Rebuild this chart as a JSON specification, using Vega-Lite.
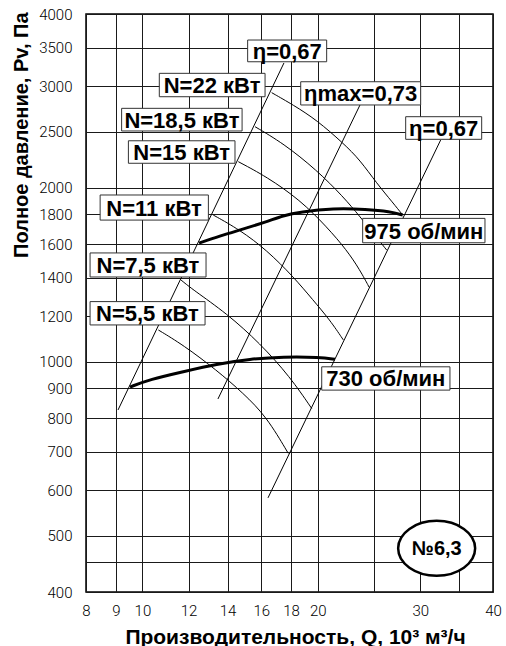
{
  "$schema": "https://vega.github.io/schema/vega-lite/v6.json",
  "width": 407,
  "height": 578,
  "autosize": "none",
  "padding": {"left": 86, "top": 14, "right": 13, "bottom": 54},
  "background": "white",
  "config": {
    "view": {"stroke": "black", "strokeWidth": 1.5},
    "axis": {
      "grid": true, "gridColor": "#1a1a1a", "gridWidth": 1, "gridOpacity": 1,
      "ticks": false, "domain": false,
      "labelFont": "Roboto", "labelFontWeight": 300, "labelFontSize": 15, "labelColor": "black",
      "titleFont": "Liberation Sans", "titleFontWeight": "bold", "titleFontSize": 21, "titleColor": "black"
    }
  },
  "datasets": {
    "curves": [
      {"s": "eta1", "k": "thin", "q": 9.08, "p": 826}, {"s": "eta1", "k": "thin", "q": 17.5, "p": 3291},
      {"s": "etamax", "k": "thin", "q": 13.48, "p": 863}, {"s": "etamax", "k": "thin", "q": 23.64, "p": 2784},
      {"s": "eta2", "k": "thin", "q": 16.43, "p": 582}, {"s": "eta2", "k": "thin", "q": 32.52, "p": 2421},
      {"s": "N22", "k": "thin", "q": 16.67, "p": 2924}, {"s": "N22", "k": "thin", "q": 18.16, "p": 2784}, {"s": "N22", "k": "thin", "q": 19.92, "p": 2622}, {"s": "N22", "k": "thin", "q": 22.13, "p": 2390}, {"s": "N22", "k": "thin", "q": 23.64, "p": 2236}, {"s": "N22", "k": "thin", "q": 25.25, "p": 2038}, {"s": "N22", "k": "thin", "q": 26.97, "p": 1882}, {"s": "N22", "k": "thin", "q": 27.99, "p": 1796},
      {"s": "N18", "k": "thin", "q": 15.61, "p": 2553}, {"s": "N18", "k": "thin", "q": 17.45, "p": 2390}, {"s": "N18", "k": "thin", "q": 19.92, "p": 2148}, {"s": "N18", "k": "thin", "q": 22.13, "p": 1931}, {"s": "N18", "k": "thin", "q": 23.64, "p": 1784}, {"s": "N18", "k": "thin", "q": 24.89, "p": 1672}, {"s": "N18", "k": "thin", "q": 26.27, "p": 1562},
      {"s": "N15", "k": "thin", "q": 14.61, "p": 2221}, {"s": "N15", "k": "thin", "q": 16.34, "p": 2092}, {"s": "N15", "k": "thin", "q": 18.65, "p": 1907}, {"s": "N15", "k": "thin", "q": 20.72, "p": 1714}, {"s": "N15", "k": "thin", "q": 22.43, "p": 1562}, {"s": "N15", "k": "thin", "q": 23.64, "p": 1442}, {"s": "N15", "k": "thin", "q": 24.52, "p": 1346},
      {"s": "N11", "k": "thin", "q": 13.23, "p": 1796}, {"s": "N11", "k": "thin", "q": 14.71, "p": 1692}, {"s": "N11", "k": "thin", "q": 16.34, "p": 1562}, {"s": "N11", "k": "thin", "q": 18.16, "p": 1405}, {"s": "N11", "k": "thin", "q": 19.63, "p": 1280}, {"s": "N11", "k": "thin", "q": 20.99, "p": 1182}, {"s": "N11", "k": "thin", "q": 22.13, "p": 1092},
      {"s": "N7", "k": "thin", "q": 11.65, "p": 1386}, {"s": "N7", "k": "thin", "q": 12.23, "p": 1332}, {"s": "N7", "k": "thin", "q": 13.95, "p": 1214}, {"s": "N7", "k": "thin", "q": 15.92, "p": 1077}, {"s": "N7", "k": "thin", "q": 17.92, "p": 943}, {"s": "N7", "k": "thin", "q": 19.53, "p": 831},
      {"s": "N5", "k": "thin", "q": 10.65, "p": 1136}, {"s": "N5", "k": "thin", "q": 11.75, "p": 1070}, {"s": "N5", "k": "thin", "q": 13.41, "p": 968}, {"s": "N5", "k": "thin", "q": 14.9, "p": 883}, {"s": "N5", "k": "thin", "q": 16.34, "p": 804}, {"s": "N5", "k": "thin", "q": 17.8, "p": 695},
      {"s": "r975", "k": "thick", "q": 12.51, "p": 1606}, {"s": "r975", "k": "thick", "q": 13.59, "p": 1652}, {"s": "r975", "k": "thick", "q": 14.71, "p": 1692}, {"s": "r975", "k": "thick", "q": 16.34, "p": 1748}, {"s": "r975", "k": "thick", "q": 17.45, "p": 1792}, {"s": "r975", "k": "thick", "q": 18.65, "p": 1818}, {"s": "r975", "k": "thick", "q": 21.27, "p": 1845}, {"s": "r975", "k": "thick", "q": 24.27, "p": 1837}, {"s": "r975", "k": "thick", "q": 26.62, "p": 1820}, {"s": "r975", "k": "thick", "q": 27.99, "p": 1796},
      {"s": "r730", "k": "thick", "q": 9.52, "p": 905}, {"s": "r730", "k": "thick", "q": 10.3, "p": 933}, {"s": "r730", "k": "thick", "q": 11.75, "p": 962}, {"s": "r730", "k": "thick", "q": 13.41, "p": 992}, {"s": "r730", "k": "thick", "q": 15.3, "p": 1012}, {"s": "r730", "k": "thick", "q": 17.45, "p": 1021}, {"s": "r730", "k": "thick", "q": 20.18, "p": 1019}, {"s": "r730", "k": "thick", "q": 21.41, "p": 1011}
    ],
    "boxes": [
      {"q": 15.16, "q2": 20.72, "p": 3307, "p2": 3606},
      {"q": 10.69, "q2": 16.24, "p": 2877, "p2": 3158},
      {"q": 18.7, "q2": 30.05, "p": 2784, "p2": 3054},
      {"q": 28.32, "q2": 38.25, "p": 2428, "p2": 2657},
      {"q": 9.21, "q2": 14.83, "p": 2510, "p2": 2747},
      {"q": 9.46, "q2": 14.42, "p": 2207, "p2": 2414},
      {"q": 8.46, "q2": 12.98, "p": 1760, "p2": 1945},
      {"q": 8.13, "q2": 12.86, "p": 1403, "p2": 1544},
      {"q": 8.13, "q2": 12.81, "p": 1159, "p2": 1272},
      {"q": 23.89, "q2": 38.75, "p": 1608, "p2": 1772},
      {"q": 20.32, "q2": 33.74, "p": 894, "p2": 981}
    ],
    "texts": [
      {"t": "η=0,67", "q": 17.73, "p": 3454},
      {"t": "N=22 кВт", "q": 13.17, "p": 3014},
      {"t": "ηmax=0,73", "q": 23.7, "p": 2916},
      {"t": "η=0,67", "q": 32.91, "p": 2540},
      {"t": "N=18,5 кВт", "q": 11.69, "p": 2626},
      {"t": "N=15 кВт", "q": 11.68, "p": 2308},
      {"t": "N=11 кВт", "q": 10.47, "p": 1850},
      {"t": "N=7,5 кВт", "q": 10.22, "p": 1472},
      {"t": "N=5,5 кВт", "q": 10.2, "p": 1214},
      {"t": "975 об/мин", "q": 30.43, "p": 1688},
      {"t": "730 об/мин", "q": 26.18, "p": 937}
    ],
    "badge": [{"t": "№6,3", "q": 32.01, "p": 476}]
  },
  "encoding": {
    "x": {"field": "q", "type": "quantitative",
      "scale": {"type": "log", "domain": [8, 40], "nice": false, "zero": false},
      "axis": {"title": "Производительность, Q, 10³ м³/ч",
        "values": [8, 9, 10, 12, 14, 16, 18, 20, 25, 30, 35, 40],
        "labelExpr": "datum.value == 25 || datum.value == 35 ? '' : datum.label",
        "format": "d", "labelPadding": 11, "labelFlush": false, "labelOverlap": false,
        "titleX": 209, "titleY": 51, "titleBaseline": "alphabetic", "titleAlign": "center"}},
    "y": {"field": "p", "type": "quantitative",
      "scale": {"type": "log", "domain": [400, 4000], "nice": false, "zero": false},
      "axis": {"title": "Полное давление, Pv, Па",
        "values": [400, 450, 500, 600, 700, 800, 900, 1000, 1200, 1400, 1600, 1800, 2000, 2500, 3000, 3500, 4000],
        "labelExpr": "datum.value == 450 ? '' : datum.label",
        "format": "d", "labelPadding": 14, "labelFlush": false, "labelOverlap": false,
        "titleFontSize": 20,
        "titleAngle": -90, "titleX": -59, "titleY": -2, "titleAlign": "right", "titleBaseline": "alphabetic"}}
  },
  "layer": [
    {
      "data": {"name": "curves"},
      "transform": [{"filter": "datum.k == 'thin'"}],
      "mark": {"type": "line", "color": "black", "strokeWidth": 1, "interpolate": "basis"},
      "encoding": {"detail": {"field": "s"}}
    },
    {
      "data": {"name": "curves"},
      "transform": [{"filter": "datum.k == 'thick'"}],
      "mark": {"type": "line", "color": "black", "strokeWidth": 3, "interpolate": "basis"},
      "encoding": {"detail": {"field": "s"}}
    },
    {
      "data": {"name": "boxes"},
      "mark": {"type": "rect", "fill": "white", "stroke": "#333", "strokeWidth": 1},
      "encoding": {"x2": {"field": "q2"}, "y2": {"field": "p2"}}
    },
    {
      "data": {"name": "texts"},
      "mark": {"type": "text", "font": "Liberation Sans", "fontWeight": "bold", "fontSize": 22, "color": "black", "align": "center", "baseline": "middle", "dy": 1},
      "encoding": {"text": {"field": "t"}}
    },
    {
      "data": {"name": "badge"},
      "mark": {"type": "point", "shape": "M-1,0A1,0.714,0,1,0,1,0A1,0.714,0,1,0,-1,0Z", "size": 5929, "filled": false, "fill": "white", "fillOpacity": 1, "stroke": "black", "strokeWidth": 2.5, "opacity": 1}
    },
    {
      "data": {"name": "badge"},
      "mark": {"type": "text", "font": "Liberation Sans", "fontWeight": "bold", "fontSize": 20, "color": "black", "align": "center", "baseline": "middle", "dy": 1},
      "encoding": {"text": {"field": "t"}}
    }
  ]
}
